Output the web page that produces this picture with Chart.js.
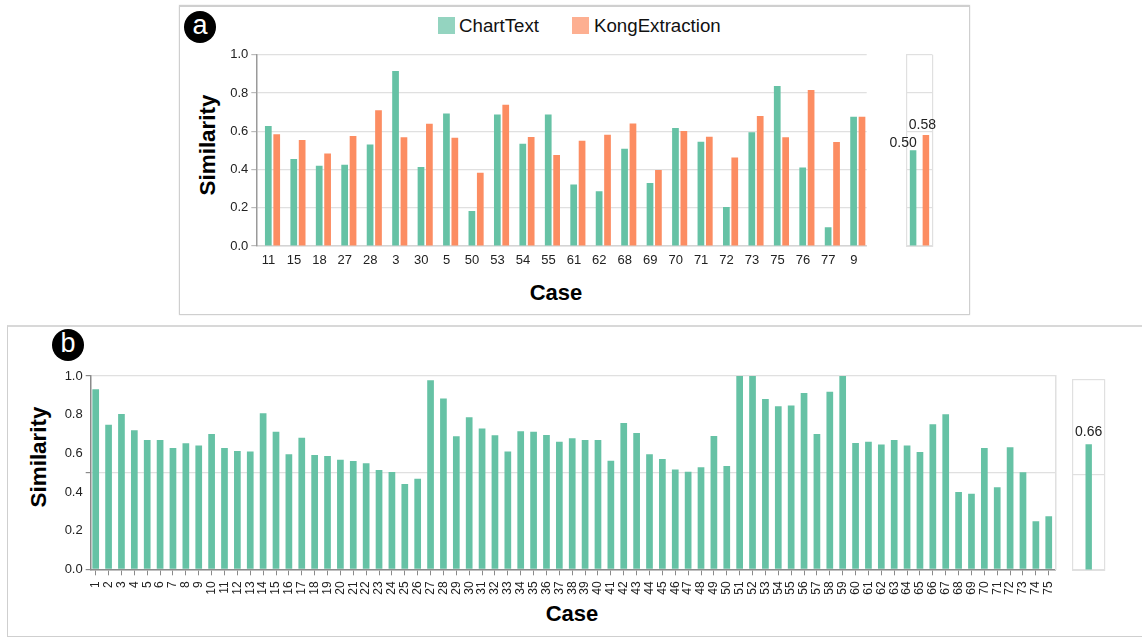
<!DOCTYPE html>
<html><head><meta charset="utf-8">
<script src="https://cdn.jsdelivr.net/npm/chart.js@4"></script>
<style>
html,body{margin:0;padding:0;background:#fff;width:1142px;height:637px;overflow:hidden;font-family:"Liberation Sans",Arial,sans-serif}
canvas{position:absolute;display:block}
.panel{position:absolute;box-sizing:border-box;background:#fff}
#pa{left:179px;top:5px;width:791px;height:310px;border:1.5px solid #cfcfcf;border-top:2px solid #cfcfcf;box-shadow:0 0 1.5px #ddd}
#pb{left:7px;top:325px;width:1140px;height:312px;border:1.5px solid #cfcfcf;border-top:2.5px solid #d8d8d8}
.badge{position:absolute;width:32px;height:32px;border-radius:50%;background:#000;color:#fff;font-size:27px;line-height:29px;text-align:center}
.title{position:absolute;font-weight:bold;font-size:22px;color:#000;white-space:nowrap;transform:translate(-50%,-50%)}
.title.rot{font-size:22.4px;transform:translate(-50%,-50%) rotate(-90deg)}
.lg{position:absolute;font-size:18.7px;color:#111;line-height:20px;white-space:nowrap}
.sw{position:absolute;width:17px;height:17px}
</style></head><body>
<div class="panel" id="pa"></div>
<div class="panel" id="pb"></div>
<div class="badge" style="left:184px;top:11px">a</div>
<div class="badge" style="left:52px;top:329px">b</div>
<div class="sw" style="left:438px;top:17px;background:#66c2a5;opacity:.7"></div>
<div class="lg" style="left:459px;top:16px">ChartText</div>
<div class="sw" style="left:572px;top:17px;background:#fc8d62;opacity:.7"></div>
<div class="lg" style="left:594px;top:16px">KongExtraction</div>
<div class="title rot" style="left:208px;top:145px">Similarity</div>
<div class="title" style="left:556px;top:293px">Case</div>
<div class="title rot" style="left:39px;top:457px">Similarity</div>
<div class="title" style="left:572px;top:614px">Case</div>
<canvas id="ca" width="700" height="304" style="left:182px;top:8px"></canvas>
<canvas id="cam" width="70" height="260" style="left:880px;top:8px"></canvas>
<canvas id="cb" width="1060" height="306" style="left:12px;top:328px"></canvas>
<canvas id="cbm" width="60" height="260" style="left:1060px;top:328px"></canvas>
<script>
const seriesNames = ["ChartText", "KongExtraction"];
const casesA = ["11","15","18","27","28","3","30","5","50","53","54","55","61","62","68","69","70","71","72","73","75","76","77","9"];
const chartTextA = [0.627,0.455,0.42,0.425,0.531,0.915,0.413,0.692,0.183,0.688,0.535,0.688,0.322,0.286,0.509,0.329,0.617,0.545,0.204,0.594,0.836,0.411,0.098,0.676];
const kongA = [0.584,0.554,0.483,0.575,0.709,0.568,0.639,0.566,0.383,0.739,0.57,0.476,0.55,0.582,0.641,0.397,0.601,0.571,0.463,0.679,0.568,0.815,0.544,0.676];
const meanChartTextA = [0.50];
const meanKongA = [0.58];
const casesB = ["1","2","3","4","5","6","7","8","9","10","11","12","13","14","15","16","17","18","19","20","21","22","23","24","25","26","27","28","29","30","31","32","33","34","35","36","37","38","39","40","41","42","43","44","45","46","47","48","49","50","51","52","53","54","55","56","57","58","59","60","61","62","63","64","65","66","67","68","69","70","71","72","73","74","75"];
const chartTextB = [0.931,0.748,0.803,0.719,0.669,0.669,0.628,0.652,0.64,0.70,0.628,0.612,0.609,0.807,0.712,0.595,0.681,0.591,0.586,0.567,0.56,0.548,0.514,0.503,0.441,0.469,0.978,0.884,0.688,0.786,0.729,0.693,0.61,0.714,0.712,0.695,0.66,0.678,0.669,0.669,0.562,0.757,0.705,0.595,0.571,0.516,0.505,0.528,0.69,0.534,1,1,0.881,0.843,0.848,0.912,0.70,0.919,1,0.653,0.66,0.645,0.669,0.641,0.607,0.75,0.802,0.40,0.391,0.628,0.424,0.631,0.502,0.248,0.274];
const meanChartTextB = [0.66];
const yTicksA = [0,0.2,0.4,0.6,0.8,1];
const yTicksB = [0,0.2,0.4,0.5,0.6,0.8,1];
const GREEN = "#66c2a5", ORANGE = "#fc8d62", GRID = "#e0e0e0", AXIS = "#9a9a9a", TXT = "#222";
const FONT = "'Liberation Sans',Arial,sans-serif";
Chart.defaults.font.family = FONT;
Chart.defaults.animation = false;
Chart.defaults.responsive = false;
Chart.defaults.devicePixelRatio = 1;
Chart.defaults.plugins.legend.display = false;
Chart.defaults.plugins.tooltip.enabled = false;

const toXY = arr => arr.map((v, i) => ({x: i, y: v}));
const setTicks = list => s => { s.ticks = list.map(v => ({value: v})); };

const barLabels = {
  id: "barLabels",
  afterDatasetsDraw(chart, _a, opts) {
    const ctx = chart.ctx;
    ctx.save();
    ctx.font = "14px " + FONT;
    ctx.fillStyle = "#222";
    ctx.textAlign = "center";
    ctx.textBaseline = "alphabetic";
    (opts.items || []).forEach((it, d) => {
      const el = chart.getDatasetMeta(d).data[0];
      ctx.fillText(chart.data.datasets[d].data[0].toFixed(2), el.x + it.dx, el.y + it.dy);
    });
    ctx.restore();
  }
};

function yScale(list, w, isB) {
  return {
    min: 0, max: 1,
    afterBuildTicks: setTicks(list),
    afterFit: s => { s.width = w; },
    border: {color: isB ? "#8a8a8a" : AXIS, width: 1.5},
    grid: {
      color: c => (isB && ![0, 0.5, 1].includes(c.tick.value)) ? "rgba(0,0,0,0)" : GRID,
      tickColor: c => (isB && ![0, 0.5, 1].includes(c.tick.value)) ? "rgba(0,0,0,0)" : (isB ? "#8a8a8a" : "#bbb"),
      tickLength: 5, lineWidth: 1.2
    },
    ticks: {
      autoSkip: false, padding: 3, color: TXT, font: {size: 13},
      callback: v => (isB && v === 0.5) ? "" : v.toFixed(1)
    }
  };
}

/* panel a, main */
new Chart(document.getElementById("ca"), {
  type: "bar",
  data: {datasets: [
    {label: seriesNames[0], data: toXY(chartTextA), backgroundColor: GREEN},
    {label: seriesNames[1], data: toXY(kongA), backgroundColor: ORANGE}
  ]},
  options: {
    layout: {padding: {top: 46.7, right: 15.3, left: 0, bottom: 0}},
    categoryPercentage: 0.66, barPercentage: 0.8,
    scales: {
      x: {
        type: "linear", offset: false, min: -0.637, max: 23.35,
        afterBuildTicks: setTicks(casesA.map((_, i) => i)),
        afterFit: s => { s.height = 66; },
        border: {color: "#d4d4d4", width: 1.5},
        grid: {display: false},
        ticks: {autoSkip: false, maxRotation: 0, minRotation: 0, padding: -1, labelOffset: -4, color: TXT, font: {size: 13},
                callback: v => casesA[v]}
      },
      y: yScale(yTicksA, 74.3, false)
    }
  }
});

/* panel a, mean */
new Chart(document.getElementById("cam"), {
  type: "bar",
  data: {labels: ["mean"], datasets: [
    {label: seriesNames[0], data: meanChartTextA, backgroundColor: GREEN},
    {label: seriesNames[1], data: meanKongA, backgroundColor: ORANGE}
  ]},
  options: {
    layout: {padding: {left: 26.7, right: 17.7, top: 46.7, bottom: 22}},
    categoryPercentage: 1, barPercentage: 0.51,
    scales: {
      x: {ticks: {display: false}, border: {color: GRID}, grid: {color: GRID, lineWidth: 1.2, drawTicks: false}},
      y: {min: 0, max: 1, afterBuildTicks: setTicks(yTicksA), ticks: {display: false},
          border: {color: GRID}, grid: {color: GRID, lineWidth: 1.2, drawTicks: false}}
    },
    plugins: {barLabels: {items: [{dx: -10, dy: -3}, {dx: -3.5, dy: -6}]}}
  },
  plugins: [barLabels]
});

/* panel b, main */
new Chart(document.getElementById("cb"), {
  type: "bar",
  data: {datasets: [{label: seriesNames[0], data: toXY(chartTextB), backgroundColor: GREEN}]},
  options: {
    layout: {padding: {top: 48, right: 16.3, left: 0, bottom: 0}},
    categoryPercentage: 1, barPercentage: 0.52,
    scales: {
      x: {
        type: "linear", offset: false, min: -0.388, max: 74.54,
        afterBuildTicks: setTicks(casesB.map((_, i) => i)),
        afterFit: s => { s.height = 64.7; },
        border: {color: "#8a8a8a", width: 1.5},
        grid: {drawOnChartArea: false, tickLength: 6, tickColor: "#8a8a8a", offset: false},
        ticks: {autoSkip: false, maxRotation: 90, minRotation: 90, padding: 6, color: TXT, font: {size: 12},
                callback: v => casesB[v]}
      },
      y: yScale(yTicksB, 78.7, true),
      yEdge: {
        position: "right", min: 0, max: 1,
        afterFit: s => { s.width = 0; },
        ticks: {display: false},
        border: {color: GRID, width: 1.5},
        grid: {drawOnChartArea: false, drawTicks: false}
      }
    }
  }
});

/* panel b, mean */
new Chart(document.getElementById("cbm"), {
  type: "bar",
  data: {labels: ["mean"], datasets: [{label: seriesNames[0], data: meanChartTextB, backgroundColor: GREEN}]},
  options: {
    layout: {padding: {left: 12.7, right: 15.3, top: 51.3, bottom: 18}},
    categoryPercentage: 1, barPercentage: 0.2,
    scales: {
      x: {ticks: {display: false}, border: {color: GRID}, grid: {color: GRID, lineWidth: 1.2, drawTicks: false}},
      y: {min: 0, max: 1, afterBuildTicks: setTicks([0, 0.5, 1]), ticks: {display: false},
          border: {color: GRID}, grid: {color: GRID, lineWidth: 1.2, drawTicks: false}}
    },
    plugins: {barLabels: {items: [{dx: 0, dy: -8}]}}
  },
  plugins: [barLabels]
});
</script>
</body></html>
